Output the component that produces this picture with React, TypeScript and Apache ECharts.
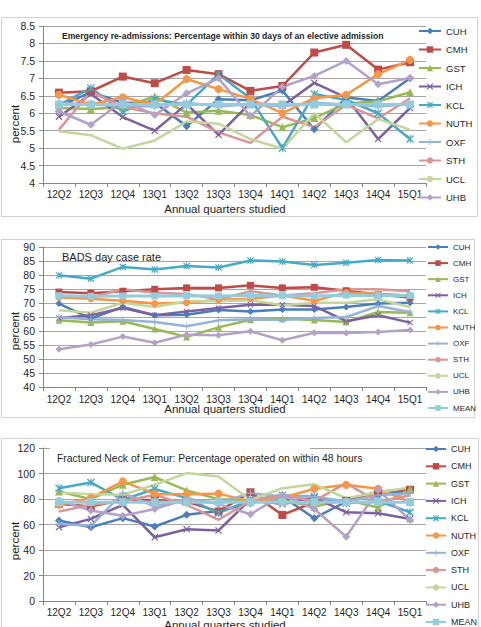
import React, { useEffect, useRef } from 'react';
import * as echarts from 'echarts';

const quarters = ['12Q2', '12Q3', '12Q4', '13Q1', '13Q2', '13Q3', '13Q4', '14Q1', '14Q2', '14Q3', '14Q4', '15Q1'];
const hospitals = ['CUH', 'CMH', 'GST', 'ICH', 'KCL', 'NUTH', 'OXF', 'STH', 'UCL', 'UHB', 'MEAN'];

// Emergency re-admissions within 30 days of an elective admission (%)
const readmitCUH = [6.2, 6.6, 6.3, 6.3, 5.63, 6.4, 6.37, 6.65, 5.54, 6.45, 6.35, 7.0];
const readmitCMH = [6.59, 6.63, 7.05, 6.86, 7.24, 7.12, 6.64, 6.78, 7.74, 7.96, 7.25, 7.46];
const readmitGST = [6.15, 6.12, 6.17, 6.48, 6.02, 6.07, 5.95, 5.6, 5.86, 6.28, 6.34, 6.6];
const readmitICH = [5.9, 6.55, 5.89, 5.5, 6.26, 5.38, 6.3, 6.21, 6.87, 6.45, 5.26, 6.15];
const readmitKCL = [6.24, 6.72, 6.05, 6.4, 6.24, 7.12, 6.42, 5.0, 6.55, 6.38, 6.0, 5.26];
const readmitNUTH = [6.53, 6.25, 6.46, 6.25, 6.98, 6.69, 6.41, 6.0, 6.43, 6.53, 7.12, 7.53];
const readmitOXF = [6.3, 6.25, 6.2, 6.2, 6.3, 6.2, 6.25, 6.2, 6.3, 6.25, 6.2, 6.25];
const readmitSTH = [5.53, 6.62, 6.18, 6.0, 5.9, 5.45, 5.15, 5.9, 5.6, 6.24, 5.85, 6.43];
const readmitUCL = [5.48, 5.37, 4.98, 5.22, 5.76, 5.7, 5.26, 4.98, 6.0, 5.17, 5.83, 5.53];
const readmitUHB = [6.05, 5.67, 6.36, 5.95, 6.57, 7.0, 5.91, 6.76, 7.07, 7.5, 6.83, 7.01];
const readmitMEAN = [6.25, 6.25, 6.25, 6.25, 6.25, 6.25, 6.25, 6.25, 6.25, 6.25, 6.25, 6.25];

// BADS day case rate (%)
const badsCUH = [69.8, 64.4, 68.6, 65.6, 65.8, 67.5, 67.0, 67.7, 67.7, 68.6, 69.8, 70.1];
const badsCMH = [73.9, 73.5, 74.2, 74.9, 75.4, 75.4, 76.3, 75.4, 75.6, 74.4, 73.0, 72.0];
const badsGST = [63.8, 63.0, 63.5, 60.7, 57.9, 61.3, 64.0, 64.4, 63.9, 63.2, 66.8, 66.5];
const badsICH = [64.6, 65.6, 68.2, 65.6, 67.0, 68.2, 69.4, 69.4, 68.9, 63.5, 65.6, 63.0];
const badsKCL = [79.9, 78.7, 82.9, 82.0, 83.2, 82.7, 85.2, 84.8, 83.6, 84.4, 85.4, 85.2];
const badsNUTH = [72.0, 71.5, 70.8, 69.8, 70.1, 71.2, 71.5, 72.7, 70.8, 73.7, 73.3, 72.7];
const badsOXF = [64.9, 64.2, 63.9, 63.2, 61.7, 63.8, 64.2, 63.9, 64.6, 65.0, 68.9, 66.8];
const badsSTH = [72.5, 72.0, 74.9, 73.7, 73.2, 71.3, 74.2, 72.7, 73.5, 74.9, 74.9, 74.2];
const badsUCL = [67.4, 66.5, 70.1, 68.6, 70.6, 70.6, 71.0, 69.2, 70.1, 70.1, 71.3, 68.6];
const badsUHB = [53.5, 55.2, 58.0, 55.8, 58.7, 58.5, 59.9, 56.7, 59.4, 59.3, 59.6, 60.4];
const badsMEAN = [72.6, 72.4, 72.5, 72.5, 72.6, 72.5, 72.7, 72.6, 72.5, 72.8, 72.6, 72.7];

// Fractured neck of femur operated on within 48 hours (%)
const femurCUH = [63.1, 57.9, 65.0, 58.4, 67.6, 70.6, 76.7, 82.0, 64.9, 78.0, 83.2, 86.4];
const femurCMH = [76.2, 74.1, 79.4, 79.0, 78.0, 70.2, 85.3, 67.5, 77.5, 78.5, 85.9, 87.2];
const femurGST = [85.9, 79.9, 91.2, 97.2, 86.7, 79.9, 79.3, 79.0, 74.0, 79.3, 73.3, 88.0];
const femurICH = [57.9, 64.4, 75.4, 50.0, 56.3, 55.3, 79.8, 75.9, 81.1, 69.6, 68.8, 64.3];
const femurKCL = [88.5, 93.0, 79.4, 87.8, 80.7, 68.9, 79.3, 83.0, 82.0, 76.7, 78.5, 69.6];
const femurNUTH = [75.4, 80.8, 93.8, 84.0, 83.8, 84.2, 78.0, 81.0, 88.0, 91.1, 88.0, 77.5];
const femurOXF = [60.3, 59.0, 84.6, 74.1, 80.0, 77.0, 84.6, 82.0, 82.0, 78.0, 83.0, 84.6];
const femurSTH = [70.2, 75.4, 78.0, 83.3, 75.4, 63.7, 78.5, 83.2, 78.5, 92.4, 77.5, 83.0];
const femurUCL = [85.1, 83.8, 83.3, 91.2, 100.3, 97.7, 79.3, 88.5, 91.6, 80.6, 85.3, 89.0];
const femurUHB = [78.8, 71.0, 66.8, 72.1, 80.0, 76.0, 68.0, 83.2, 72.2, 50.4, 87.2, 63.5];
const femurMEAN = [77.5, 77.5, 77.5, 77.5, 77.5, 77.5, 77.5, 77.5, 77.5, 77.5, 77.5, 77.5];

const readmitData = [readmitCUH, readmitCMH, readmitGST, readmitICH, readmitKCL, readmitNUTH, readmitOXF, readmitSTH, readmitUCL, readmitUHB, readmitMEAN];
const badsData = [badsCUH, badsCMH, badsGST, badsICH, badsKCL, badsNUTH, badsOXF, badsSTH, badsUCL, badsUHB, badsMEAN];
const femurData = [femurCUH, femurCMH, femurGST, femurICH, femurKCL, femurNUTH, femurOXF, femurSTH, femurUCL, femurUHB, femurMEAN];

const FONT = 'Liberation Sans';

const crossPath = 'path://M1.2,0 L5,3.8 L8.8,0 L10,1.2 L6.2,5 L10,8.8 L8.8,10 L5,6.2 L1.2,10 L0,8.8 L3.8,5 L0,1.2 Z';
const starPath = 'path://M1.2,0 L5,3.8 L8.8,0 L10,1.2 L6.2,5 L10,8.8 L8.8,10 L5,6.2 L1.2,10 L0,8.8 L3.8,5 L0,1.2 Z M4.3,0 L5.7,0 L5.7,10 L4.3,10 Z';
const plusPath = 'path://M4.3,0 L5.7,0 L5.7,4.3 L10,4.3 L10,5.7 L5.7,5.7 L5.7,10 L4.3,10 L4.3,5.7 L0,5.7 L0,4.3 L4.3,4.3 Z';

const seriesLook: { color: string; symbol: string; size: number }[] = [
  { color: '#4A7EBB', symbol: 'diamond', size: 8 },
  { color: '#BE4B48', symbol: 'rect', size: 8 },
  { color: '#98B954', symbol: 'triangle', size: 8 },
  { color: '#7D60A0', symbol: crossPath, size: 7 },
  { color: '#46AAC5', symbol: starPath, size: 8 },
  { color: '#F79646', symbol: 'circle', size: 8 },
  { color: '#95B3D7', symbol: plusPath, size: 8 },
  { color: '#D99694', symbol: 'none', size: 0 },
  { color: '#C3D69B', symbol: 'none', size: 0 },
  { color: '#B3A2C7', symbol: 'diamond', size: 8 },
  { color: '#93CDDD', symbol: 'rect', size: 8 },
];

const grids = [
  { left: 43, top: 26, width: 383, height: 157 },
  { left: 43, top: 247, width: 383, height: 140 },
  { left: 43, top: 448, width: 383, height: 153 },
];

const axisColor = '#868686';

function buildOption() {
  const panels = [readmitData, badsData, femurData];
  const series: any[] = [];
  panels.forEach((rows, g) => {
    rows.forEach((values, i) => {
      const look = seriesLook[i];
      series.push({
        type: 'line',
        name: hospitals[i],
        xAxisIndex: g,
        yAxisIndex: g,
        data: values,
        symbol: look.symbol,
        symbolSize: g === 1 ? look.size - 1 : look.size,
        showSymbol: look.symbol !== 'none',
        lineStyle: { color: look.color, width: i === 10 ? 3 : 2.5 },
        itemStyle: { color: look.color },
        emphasis: { disabled: true },
      });
    });
  });

  const xAxis = grids.map((_, g) => ({
    type: 'category',
    gridIndex: g,
    data: quarters,
    boundaryGap: true,
    axisLine: { lineStyle: { color: axisColor } },
    axisTick: { show: true, length: 4, lineStyle: { color: axisColor } },
    axisLabel: { color: '#1f1f1f', fontSize: 10, fontFamily: FONT, margin: [6, 7, 6][g] },
  }));

  const yRanges = [
    { min: 4, max: 8.5, interval: 0.5 },
    { min: 40, max: 90, interval: 5 },
    { min: 0, max: 120, interval: 20 },
  ];
  const yAxis = yRanges.map((r, g) => ({
    type: 'value',
    gridIndex: g,
    min: r.min,
    max: r.max,
    interval: r.interval,
    axisLine: { show: true, lineStyle: { color: axisColor } },
    axisTick: { show: true, length: 4, lineStyle: { color: axisColor } },
    splitLine: { lineStyle: { color: '#a6a6a6' } },
    axisLabel: { color: '#1f1f1f', fontSize: 10.5, fontFamily: FONT, margin: 8 },
  }));

  const legendBase = {
    orient: 'vertical',
    padding: 0,
    height: 260,
    itemWidth: 22,
    itemHeight: 8,
    itemGap: 8.5,
    textStyle: { color: '#1f1f1f', fontSize: 9.5, fontFamily: FONT },
    selectedMode: false,
  };
  const legend = [
    { ...legendBase, left: 418, top: 26, data: hospitals.slice(0, 10) },
    {
      ...legendBase,
      left: 427,
      top: 243,
      itemHeight: 7,
      itemGap: 8.1,
      itemWidth: 20,
      textStyle: { ...legendBase.textStyle, fontSize: 8 },
      data: hospitals,
    },
    {
      ...legendBase,
      left: 425,
      top: 444.5,
      itemGap: 8.3,
      itemWidth: 20,
      textStyle: { ...legendBase.textStyle, fontSize: 9 },
      data: hospitals,
    },
  ];

  const txt = (x: number, y: number, text: string, extra: any = {}) => ({
    type: 'text',
    x,
    y,
    z: 5,
    style: { text, fill: '#1f1f1f', fontFamily: FONT, fontSize: 11, verticalAlign: 'middle', align: 'left', ...extra },
  });

  const vtxt = (x: number, y: number, text: string) => ({
    ...txt(x, y, text, { align: 'center', fontSize: 11.5 }),
    rotation: Math.PI / 2,
  });

  const graphic = [
    { type: 'rect', shape: { x: 1.5, y: 17.5, width: 476, height: 199 }, style: { fill: 'none', stroke: '#d0d0d0', lineWidth: 1 }, z: 0 },
    { type: 'rect', shape: { x: 1.5, y: 239.5, width: 473, height: 178 }, style: { fill: 'none', stroke: '#d0d0d0', lineWidth: 1 }, z: 0 },
    { type: 'rect', shape: { x: 1.5, y: 438.5, width: 477, height: 200 }, style: { fill: 'none', stroke: '#d0d0d0', lineWidth: 1 }, z: 0 },
    { type: 'rect', shape: { x: 50, y: 444, width: 260, height: 24 }, style: { fill: '#ffffff' }, z: 1 },
    txt(62, 36, 'Emergency re-admissions: Percentage within 30 days of an elective admission', { fontWeight: 'bold', fontSize: 8.6 }),
    txt(62, 257, 'BADS day case rate', { fontSize: 11 }),
    txt(57, 458, 'Fractured Neck of Femur: Percentage operated on within 48 hours', { fontSize: 10.4 }),
    vtxt(15, 124, 'percent'),
    vtxt(15, 331, 'percent'),
    vtxt(15, 541, 'percent'),
    txt(225, 209, 'Annual quarters studied', { align: 'center', fontSize: 11.5 }),
    txt(225, 409, 'Annual quarters studied', { align: 'center', fontSize: 11.5 }),
    txt(225, 625, 'Annual quarters studied', { align: 'center', fontSize: 11.5 }),
  ];

  return {
    animation: false,
    backgroundColor: '#ffffff',
    grid: grids,
    xAxis,
    yAxis,
    legend,
    series,
    graphic,
  };
}

export default function App() {
  const ref = useRef<HTMLDivElement>(null);
  useEffect(() => {
    if (!ref.current) return;
    const chart = echarts.init(ref.current, undefined, { renderer: 'svg' });
    chart.setOption(buildOption() as any);
    return () => chart.dispose();
  }, []);
  return (
    <div
      ref={ref}
      style={{ position: 'fixed', left: 0, top: 0, width: 481, height: 627, background: '#fff' }}
    />
  );
}
